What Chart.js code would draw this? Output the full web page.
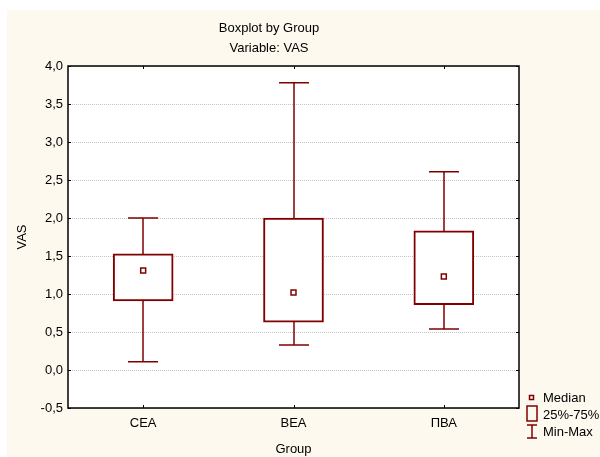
<!DOCTYPE html>
<html>
<head>
<meta charset="utf-8">
<script src="https://cdn.jsdelivr.net/npm/chart.js@4.4.1/dist/chart.umd.min.js"></script>
<style>
html,body{margin:0;padding:0;background:#ffffff;}
#wrap{position:relative;width:600px;height:457px;}
</style>
</head>
<body>
<div id="wrap"><canvas id="c" width="600" height="457"></canvas></div>
<script>
const categories = ['CEA', 'BEA', 'ПВА'];
const minValues = [0.11, 0.33, 0.54];
const q1Values = [0.91, 0.63, 0.86];
const medianValues = [1.31, 1.02, 1.23];
const q3Values = [1.53, 2.00, 1.83];
const maxValues = [2.00, 3.78, 2.61];
const yTickLabels = ['-0,5', '0,0', '0,5', '1,0', '1,5', '2,0', '2,5', '3,0', '3,5', '4,0'];
const titleLines = ['Boxplot by Group', 'Variable: VAS'];
const legendLabels = ['Median', '25%-75%', 'Min-Max'];

const MAROON = '#800000';
const FONT = '"Liberation Sans", Arial, sans-serif';

const decor = {
  id: 'decor',
  beforeDraw(chart) {
    const ctx = chart.ctx, a = chart.chartArea;
    ctx.save();
    ctx.fillStyle = '#ffffff';
    ctx.fillRect(0, 0, chart.width, chart.height);
    ctx.fillStyle = '#fdf9ef';
    ctx.fillRect(7, 10, chart.width - 7, chart.height - 10);
    ctx.fillStyle = '#ffffff';
    ctx.fillRect(a.left, a.top, a.right - a.left, a.bottom - a.top);
    ctx.restore();
  },
  beforeDatasetsDraw(chart) {
    const ctx = chart.ctx, a = chart.chartArea, x = chart.scales.x, y = chart.scales.y;
    ctx.save();
    // dotted grid lines
    ctx.strokeStyle = '#c4c4c4';
    ctx.lineWidth = 1;
    ctx.setLineDash([1, 1]);
    ctx.beginPath();
    y.ticks.forEach(t => {
      const py = Math.round(y.getPixelForValue(t.value)) + 0.5;
      ctx.moveTo(a.left, py); ctx.lineTo(a.right, py);
    });
    ctx.stroke();
    ctx.setLineDash([]);
    // whiskers
    ctx.strokeStyle = MAROON;
    ctx.lineWidth = 1.5;
    categories.forEach((c, i) => {
      const px = Math.round(x.getPixelForValue(i));
      const yMin = y.getPixelForValue(minValues[i]);
      const yMax = y.getPixelForValue(maxValues[i]);
      ctx.beginPath();
      ctx.moveTo(px, yMin); ctx.lineTo(px, yMax);
      ctx.moveTo(px - 15, yMin); ctx.lineTo(px + 15, yMin);
      ctx.moveTo(px - 15, yMax); ctx.lineTo(px + 15, yMax);
      ctx.stroke();
    });
    ctx.restore();
  },
  afterDraw(chart) {
    const ctx = chart.ctx, a = chart.chartArea, x = chart.scales.x, y = chart.scales.y;
    ctx.save();
    // frame
    ctx.strokeStyle = '#000';
    ctx.lineWidth = 1.5;
    ctx.strokeRect(a.left, a.top, a.right - a.left, a.bottom - a.top);
    // inward ticks
    ctx.lineWidth = 1;
    ctx.beginPath();
    y.ticks.forEach(t => {
      const py = Math.round(y.getPixelForValue(t.value)) + 0.5;
      ctx.moveTo(a.left, py); ctx.lineTo(a.left + 3, py);
      ctx.moveTo(a.right, py); ctx.lineTo(a.right - 3, py);
    });
    categories.forEach((c, i) => {
      const px = Math.round(x.getPixelForValue(i)) + 0.5;
      ctx.moveTo(px, a.bottom); ctx.lineTo(px, a.bottom - 3);
      ctx.moveTo(px, a.top); ctx.lineTo(px, a.top + 3);
    });
    ctx.stroke();
    // titles
    ctx.fillStyle = '#000';
    ctx.font = '13px ' + FONT;
    ctx.textAlign = 'center';
    ctx.textBaseline = 'middle';
    ctx.fillText(titleLines[0], 269, 28);
    ctx.fillText(titleLines[1], 269, 48);
    // legend
    ctx.textAlign = 'left';
    ctx.fillText(legendLabels[0], 543, 398);
    ctx.fillText(legendLabels[1], 543, 415);
    ctx.fillText(legendLabels[2], 543, 432);
    ctx.strokeStyle = MAROON;
    ctx.lineWidth = 1.5;
    ctx.strokeRect(529.5, 395.5, 4, 4);
    ctx.strokeRect(527, 406, 10, 15);
    ctx.beginPath();
    ctx.moveTo(532, 425); ctx.lineTo(532, 438);
    ctx.moveTo(527, 425); ctx.lineTo(537, 425);
    ctx.moveTo(527, 438); ctx.lineTo(537, 438);
    ctx.stroke();
    ctx.restore();
  }
};

new Chart(document.getElementById('c'), {
  type: 'bar',
  data: {
    labels: categories,
    datasets: [
      {
        type: 'line',
        data: medianValues,
        showLine: false,
        pointStyle: 'rect',
        pointRadius: 3.5,
        pointBorderWidth: 1.5,
        pointBorderColor: MAROON,
        pointBackgroundColor: '#ffffff',
        order: 0
      },
      {
        data: categories.map((c, i) => [q1Values[i], q3Values[i]]),
        backgroundColor: '#ffffff',
        borderColor: MAROON,
        borderWidth: 2,
        borderSkipped: false,
        barThickness: 60,
        order: 1
      }
    ]
  },
  options: {
    responsive: false,
    animation: false,
    events: [],
    layout: { padding: { top: 66, right: 81, left: 0, bottom: 0 } },
    plugins: { legend: { display: false }, title: { display: false }, tooltip: { enabled: false } },
    scales: {
      x: {
        afterFit(s) { s.height = 49; },
        grid: { display: false, drawTicks: false },
        border: { display: false },
        ticks: { color: '#000', font: { family: FONT, size: 13 }, padding: 8 },
        title: { display: true, text: 'Group', color: '#000', font: { family: FONT, size: 13 }, padding: { top: 6, bottom: 0 } }
      },
      y: {
        min: -0.5, max: 4.0,
        afterFit(s) { s.width = 68; },
        afterBuildTicks(s) {
          s.ticks = yTickLabels.map((l, i) => ({ value: -0.5 + 0.5 * i }));
        },
        grid: { display: false, drawTicks: false },
        border: { display: false },
        ticks: {
          color: '#000', font: { family: FONT, size: 13 }, padding: 5,
          callback: (v, i) => yTickLabels[i]
        },
        title: { display: true, text: 'VAS', color: '#000', font: { family: FONT, size: 13 }, padding: { top: 15, bottom: 6 } }
      }
    }
  },
  plugins: [decor]
});
</script>
</body>
</html>
